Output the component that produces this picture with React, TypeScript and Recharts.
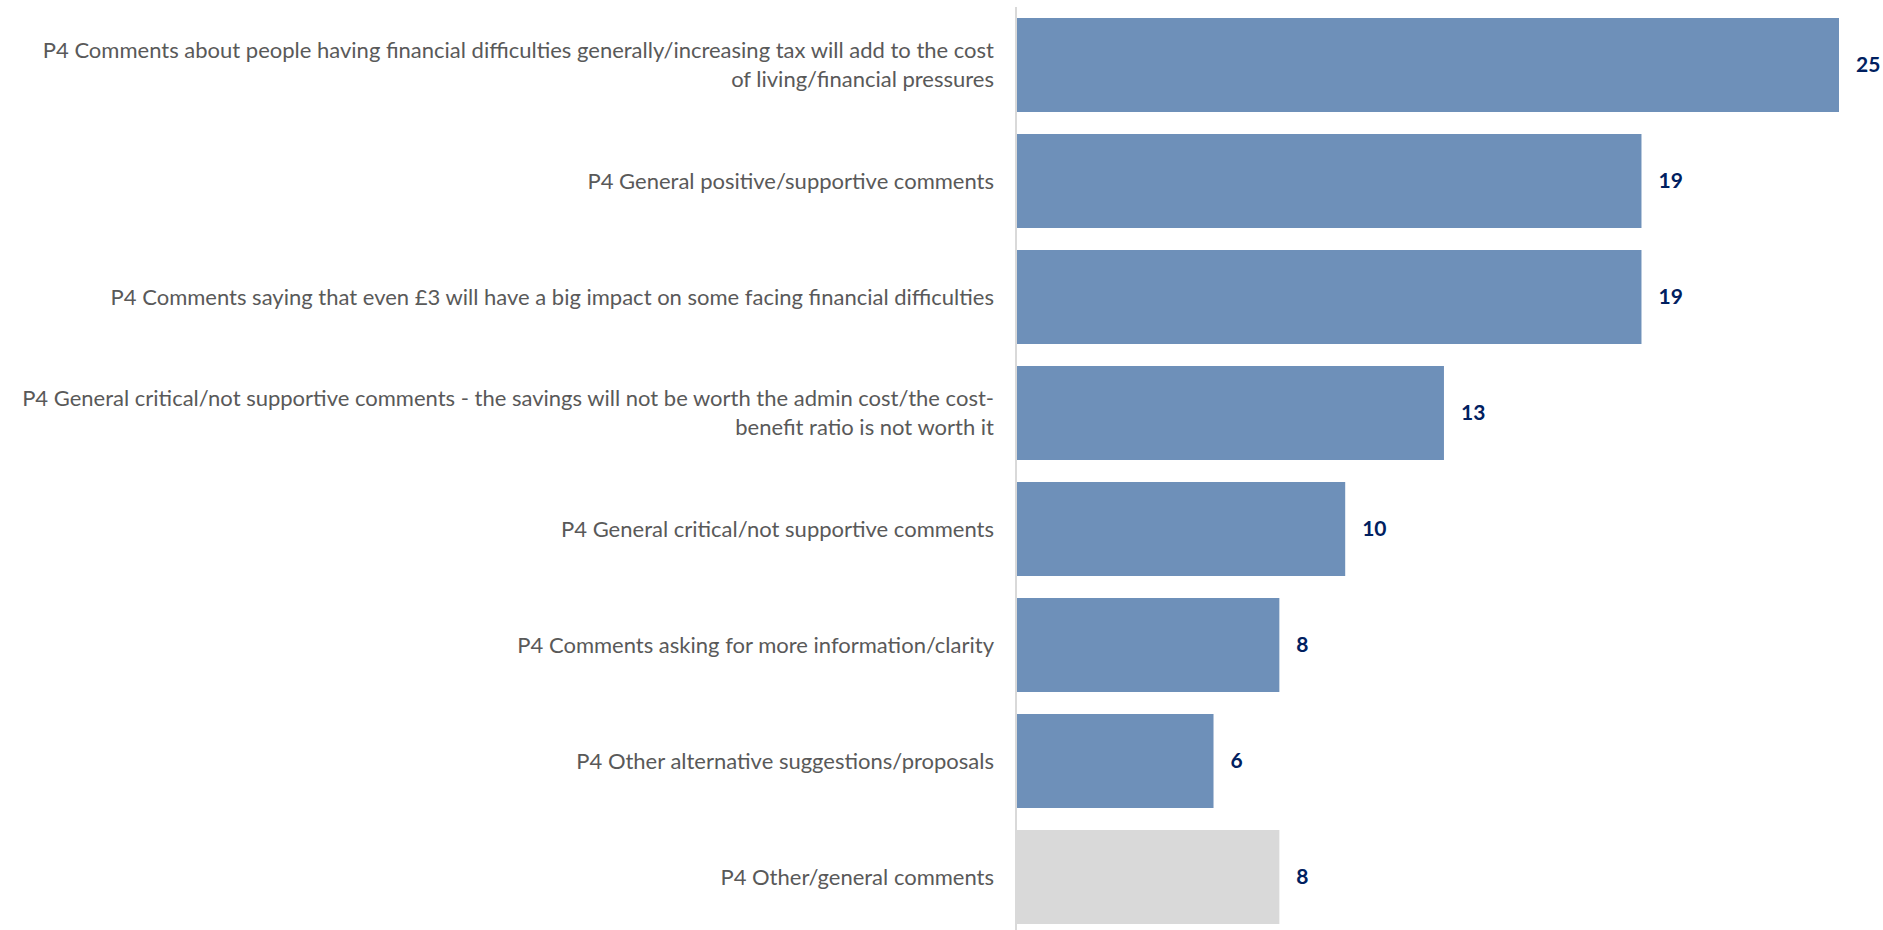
import React from 'react';
import { BarChart, Bar, XAxis, YAxis, Cell, LabelList } from 'recharts';

// categories (explicit line breaks match the original wrapping)
const categories = [
  'P4 Comments about people having financial difficulties generally/increasing tax will add to the cost\nof living/financial pressures',
  'P4 General positive/supportive comments',
  'P4 Comments saying that even £3 will have a big impact on some facing financial difficulties',
  'P4 General critical/not supportive comments - the savings will not be worth the admin cost/the cost-\nbenefit ratio is not worth it',
  'P4 General critical/not supportive comments',
  'P4 Comments asking for more information/clarity',
  'P4 Other alternative suggestions/proposals',
  'P4 Other/general comments',
];
const counts = [25, 19, 19, 13, 10, 8, 6, 8];
const isOther = [false, false, false, false, false, false, false, true];

const data = categories.map((name, i) => ({ name, value: counts[i], other: isOther[i] }));

const FONT = 'Lato, "Open Sans", sans-serif';

const WrappedTick = (props: any) => {
  const { x, y, payload } = props;
  const lines: string[] = String(payload.value).split('\n');
  const lh = 29;
  const start = -((lines.length - 1) * lh) / 2;
  return (
    <text x={x} y={y} textAnchor="end" fill="#595959" fontSize={22} fontFamily={FONT}>
      {lines.map((l, i) => (
        <tspan key={i} x={x} dy={i === 0 ? start + 7.5 : lh}>
          {l}
        </tspan>
      ))}
    </text>
  );
};

export default function App() {
  return (
    <div style={{ position: 'absolute', left: 0, top: 0, width: 1883, height: 930, overflow: 'hidden', background: '#fff' }}>
      <BarChart
        width={1883}
        height={935}
        data={data}
        layout="vertical"
        margin={{ top: 7, right: 44, bottom: 0, left: 0 }}
        barCategoryGap="9.5%"
      >
        <XAxis type="number" domain={[0, 25]} hide />
        <YAxis
          type="category"
          dataKey="name"
          width={1016}
          tickLine={false}
          tickSize={0}
          tickMargin={22}
          axisLine={{ stroke: '#D9D9D9', strokeWidth: 2 }}
          tick={<WrappedTick />}
          interval={0}
        />
        <Bar dataKey="value" isAnimationActive={false}>
          {data.map((d, i) => (
            <Cell key={i} fill={d.other ? '#D9D9D9' : '#6E90B9'} />
          ))}
          <LabelList
            dataKey="value"
            position="right"
            offset={17}
            fill="#002060"
            fontSize={21}
            fontWeight="bold"
            fontFamily={FONT}
          />
        </Bar>
      </BarChart>
    </div>
  );
}
